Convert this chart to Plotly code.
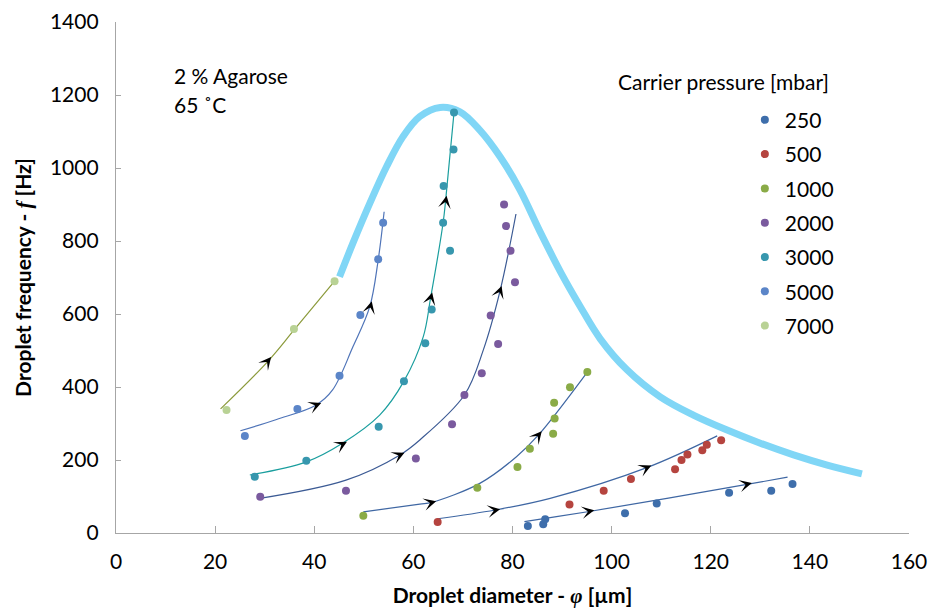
import plotly.graph_objects as go

# ---------------- data ----------------
pressures = ["250", "500", "1000", "2000", "3000", "5000", "7000"]

d250_x = [83.1, 86.2, 86.6, 102.7, 109.1, 123.7, 132.2, 136.5]
d250_y = [19, 24, 38, 54, 81, 110, 116, 134]

d500_x = [64.9, 91.5, 98.4, 103.9, 112.8, 114.1, 115.3, 118.3, 119.2, 122.1]
d500_y = [30, 78, 116, 148, 175, 200, 215, 227, 242, 254]

d1000_x = [49.9, 72.9, 81.0, 83.5, 88.2, 88.5, 88.4, 91.6, 95.1]
d1000_y = [47, 124, 181, 231, 272, 314, 357, 399, 441]

d2000_x = [29.1, 46.4, 60.5, 67.8, 70.3, 73.8, 77.1, 75.6, 80.5, 79.6, 78.7, 78.3]
d2000_y = [99, 116, 204, 298, 378, 438, 518, 596, 687, 773, 841, 900]

d3000_x = [28.0, 38.4, 53.0, 58.1, 62.4, 63.7, 67.4, 66.0, 66.1, 68.1, 68.2]
d3000_y = [154, 198, 291, 416, 520, 612, 773, 850, 951, 1051, 1152]

d5000_x = [26.0, 36.6, 45.1, 49.3, 52.9, 53.9]
d5000_y = [266, 340, 431, 597, 750, 850]

d7000_x = [22.3, 35.9, 44.1]
d7000_y = [337, 559, 690]

# trend lines (hand-drawn guide curves in the original)
t250_x = [82.4, 87.6, 95.5, 127.3, 135.5]
t250_y = [31, 42, 59, 133, 153]
t500_x = [64.9, 76.5, 87.6, 107.1, 121.3]
t500_y = [39, 63, 95, 179, 266]
t1000_x = [49.9, 61.3, 63.7, 73.4, 80.8, 85.2, 95.1]
t1000_y = [58, 79, 84, 136, 209, 268, 441]
t2000_x = [29.0, 46.4, 57.3, 61.3, 70.3, 74.1, 77.5, 80.7]
t2000_y = [95, 145, 214, 255, 378, 501, 664, 874]
t3000_x = [27.0, 38.4, 45.7, 53.2, 58.1, 62.0, 63.5, 66.0, 66.5, 68.2]
t3000_y = [159, 195, 246, 323, 416, 538, 646, 850, 910, 1152]
t5000_x = [25.1, 32.4, 40.4, 43.7, 47.8, 51.2, 52.9, 54.1]
t5000_y = [280, 311, 351, 392, 510, 620, 748, 880]
t7000_x = [21.1, 30.7, 36.1, 44.1]
t7000_y = [340, 471, 559, 690]

# upper envelope curve
env_x = [45.1, 47.8, 51.2, 54.6, 57.9, 61.3, 65.4, 69.4, 73.4, 77.5, 81.5, 85.5,
         89.9, 93.6, 97.7, 103.1, 109.8, 116.5, 123.3, 130.0, 136.7, 143.5, 150.5]
env_y = [702, 794, 903, 1004, 1086, 1141, 1166, 1154, 1104, 1031, 940, 827,
         710, 622, 532, 447, 373, 323, 282, 246, 214, 186, 162]

# direction arrows on the trend lines: tip and a point just behind it
arrow_tip_x = [31.3, 41.4, 51.6, 46.6, 63.8, 66.7, 58.2, 77.8, 64.6, 85.9, 77.5, 108.0, 96.5, 128.3]
arrow_tip_y = [482, 356, 635, 250, 659, 924, 220, 677, 87, 279, 65, 185, 62, 137]
arrow_tail_x = [30.5, 40.3, 51.3, 45.5, 63.5, 66.5, 57.1, 77.4, 63.5, 85.1, 76.3, 106.9, 95.3, 127.1]
arrow_tail_y = [469, 350, 619, 242, 643, 908, 213, 661, 83, 266, 62, 178, 59, 133]

x_ticks = [0, 20, 40, 60, 80, 100, 120, 140, 160]
y_ticks = [0, 200, 400, 600, 800, 1000, 1200, 1400]

# ---------------- styling ----------------
FONT = "Lato, 'Open Sans', sans-serif"
FS = 21
dot_colors = ["#3e6eab", "#b5443f", "#8aab47", "#7a5a9e", "#3797ae", "#5b85c8", "#b9d295"]
trend_colors = ["#3f67a3", "#3f67a3", "#3f67a3", "#3b5a94", "#1a9e9e", "#4f74b8", "#8b9a3b"]

data_x = [d250_x, d500_x, d1000_x, d2000_x, d3000_x, d5000_x, d7000_x]
data_y = [d250_y, d500_y, d1000_y, d2000_y, d3000_y, d5000_y, d7000_y]
trend_x = [t250_x, t500_x, t1000_x, t2000_x, t3000_x, t5000_x, t7000_x]
trend_y = [t250_y, t500_y, t1000_y, t2000_y, t3000_y, t5000_y, t7000_y]

fig = go.Figure()

fig.add_trace(go.Scatter(x=env_x, y=env_y, mode="lines",
                         line=dict(color="#80d6f6", width=7, shape="spline", smoothing=1),
                         showlegend=False, hoverinfo="skip"))

for tx, ty, col in zip(trend_x, trend_y, trend_colors):
    fig.add_trace(go.Scatter(x=tx, y=ty, mode="lines",
                             line=dict(color=col, width=1.2, shape="spline", smoothing=1),
                             showlegend=False, hoverinfo="skip"))

for name, xs, ys, col in zip(pressures, data_x, data_y, dot_colors):
    fig.add_trace(go.Scatter(x=xs, y=ys, mode="markers", name=name, legendgroup=name,
                             marker=dict(color=col, size=8)))

annotations = []
for tx, ty, ax, ay in zip(arrow_tip_x, arrow_tip_y, arrow_tail_x, arrow_tail_y):
    annotations.append(dict(x=tx, y=ty, ax=ax, ay=ay, xref="x", yref="y", axref="x", ayref="y",
                            text="", showarrow=True, arrowhead=3, arrowsize=2.1, arrowwidth=1,
                            arrowcolor="black", standoff=0))

annotations += [
    dict(x=11.2, y=1253, xref="x", yref="y", text="2 % Agarose", showarrow=False,
         xanchor="left", yanchor="middle", font=dict(family=FONT, size=FS, color="black")),
    dict(x=11.2, y=1175, xref="x", yref="y", text="65 ˚C", showarrow=False,
         xanchor="left", yanchor="middle", font=dict(family=FONT, size=FS, color="black")),
    dict(x=100.8, y=1238, xref="x", yref="y", text="Carrier pressure [mbar]", showarrow=False,
         xanchor="left", yanchor="middle", font=dict(family=FONT, size=FS, color="black")),
]

fig.update_layout(
    width=940, height=608,
    margin=dict(l=116, r=31, t=22, b=75),
    paper_bgcolor="white", plot_bgcolor="white",
    font=dict(family=FONT, size=FS, color="black"),
    annotations=annotations,
    legend=dict(x=0.793, y=0.848, xanchor="left", yanchor="top",
                font=dict(family=FONT, size=FS, color="black"),
                bgcolor="rgba(0,0,0,0)", tracegroupgap=4, itemwidth=30),
    xaxis=dict(range=[0, 160], tickvals=x_ticks, ticktext=[str(v) for v in x_ticks],
               showgrid=False, zeroline=False, showline=True, linecolor="#a6a6a6", linewidth=1.3,
               ticks="inside", ticklen=7, tickcolor="#a6a6a6", ticklabelstandoff=10,
               automargin=False,
               title=dict(text="<b>Droplet diameter - <i><span style='font-family:Liberation Serif'>φ</span></i> [µm]</b>",
                          font=dict(family=FONT, size=FS), standoff=16)),
    yaxis=dict(range=[0, 1400], tickvals=y_ticks, ticktext=[str(v) for v in y_ticks],
               showgrid=False, zeroline=False, showline=True, linecolor="#a6a6a6", linewidth=1.3,
               ticks="inside", ticklen=5, tickcolor="#a6a6a6", ticklabelstandoff=12,
               automargin=False,
               title=dict(text="<b>Droplet frequency - <i><span style='font-family:Liberation Serif'>f</span></i> [Hz]</b>",
                          font=dict(family=FONT, size=FS), standoff=12)),
)

fig.write_html("out.html", config={"displayModeBar": False},
               post_script="document.body.style.margin='0px';")
